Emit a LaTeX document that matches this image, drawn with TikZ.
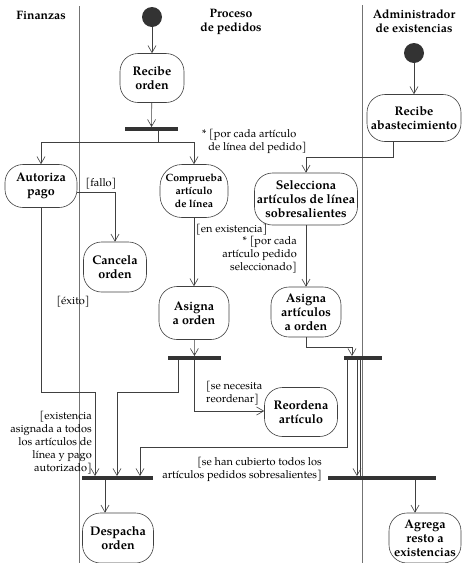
\documentclass[tikz,border=0pt]{standalone}
\usepackage{fontspec}
\setmainfont{TeX Gyre Pagella}
\usetikzlibrary{arrows.meta}
\begin{document}
\begin{tikzpicture}[x=1pt,y=-1pt,
 act/.style={draw=black!75, line width=0.6pt, rounded corners=18pt, align=center,
   font=\bfseries\fontsize{12.5}{14}\selectfont, inner sep=1pt},
 actsmall/.style={act, font=\bfseries\fontsize{10.5}{13}\selectfont},
 bar/.style={fill=black!80, minimum height=3.5pt, inner sep=0pt},
 arr/.style={draw=black!75, line width=0.6pt, -{Straight Barb[length=7pt,width=8pt]}},
 ln/.style={draw=black!75, line width=0.6pt},
 lbl/.style={font=\fontsize{11}{13}\selectfont, inner sep=0pt},
 hdr/.style={font=\bfseries\fontsize{12.2}{14}\selectfont, align=center},
 init/.style={circle, fill=black!80, minimum size=20pt, inner sep=0pt},
 lane/.style={draw=black!55, line width=0.6pt}]
\useasboundingbox (0,0) rectangle (462,563);

% swimlanes
\draw[lane] (79,6) -- (79,563);
\draw[lane] (362,5) -- (362,563);
\node[hdr] (h1) at (41,15) {Finanzas};
\node[hdr] (h2) at (231,22) {Proceso\\de pedidos};
\node[hdr] (h3) at (414,21) {Administrador\\de existencias};

% initial nodes
\node[init] (i1) at (152,17) {};
\node[init] (i2) at (414,53) {};

% activities
\node[act, minimum width=64pt, minimum height=49pt] (recibe) at (152,78) {Recibe\\orden};
\node[act, minimum width=72pt, minimum height=43pt] (autoriza) at (41,186) {Autoriza\\pago};
\node[actsmall, minimum width=68pt, minimum height=53pt, rounded corners=22pt] (comprueba) at (194,191) {Comprueba\\artículo\\de línea};
\node[act, minimum width=63pt, minimum height=50pt] (cancela) at (115,267) {Cancela\\orden};
\node[act, minimum width=70pt, minimum height=53pt] (asigna) at (194,313) {Asigna\\a orden};
\node[act, minimum width=94pt, minimum height=47pt] (abast) at (414,118) {Recibe\\abastecimiento};
\node[act, minimum width=103pt, minimum height=52pt] (selecciona) at (306,199) {Selecciona\\artículos de línea\\sobresalientes};
\node[act, minimum width=70pt, minimum height=50pt] (asignaart) at (306,312) {Asigna\\artículos\\a orden};
\node[act, minimum width=73pt, minimum height=49pt] (reordena) at (301,412) {Reordena\\artículo};
\node[act, minimum width=71pt, minimum height=50pt] (despacha) at (118,538) {Despacha\\orden};
\node[act, minimum width=72pt, minimum height=50pt] (agrega) at (425,538) {Agrega\\resto a\\existencias};

% bars
\node[bar, minimum width=53pt] (b1) at (151.5,129) {};
\node[bar, minimum width=53pt] (b2) at (194.5,358) {};
\node[bar, minimum width=38pt] (b3) at (363,358) {};
\node[bar, minimum width=108pt] (b4) at (382,478) {};
\node[bar, minimum width=71pt] (b5) at (117.5,478) {};

% helper coordinates
\coordinate (f1) at (158,142);
\coordinate (c5) at (95,392);
\coordinate (c8a) at (178,392);
\coordinate (c8b) at (117,392);
\coordinate (c9) at (194,411);
\coordinate (c11) at (393,157);
\coordinate (c13) at (352,347);
\coordinate (c14a) at (347,447);
\coordinate (c14b) at (140,447);
\coordinate (x357) at (357,0);
\coordinate (x360) at (360,0);
\coordinate (x415) at (415,0);
\coordinate (x105) at (105,0);

% connectors
\draw[arr] (i1) -- (recibe);
\draw[arr] (recibe) -- (b1);
\draw[ln] (b1.south -| f1) -- (f1);
\draw[arr] (f1) -| (autoriza.north);
\draw[arr] (f1) -| (comprueba.north);
\draw[arr] ([yshift=-6pt]autoriza.east) -| (cancela.north);
\draw[arr] (autoriza.south) |- (c5) -- (c5 |- b5.north);
\draw[arr] (comprueba) -- (asigna);
\draw[arr] (asigna) -- (b2);
\draw[arr] (b2.south -| c8a) -- (c8a) -- (c8b) -- (c8b |- b5.north);
\draw[arr] (b2.south -| c9) -- (c9) -- (reordena.west |- c9);
\draw[arr] (i2) -- (abast);
\draw[arr] (abast.south -| c11) -- (c11) -| (selecciona.north);
\draw[arr] (selecciona) -- (asignaart);
\draw[arr] (asignaart.south) |- (c13) -- (c13 |- b3.north);
\draw[arr] (b3.south -| c14a) -- (c14a) -- (c14b) -- (c14b |- b5.north);
\draw[arr] (b3.south -| x357) -- (b4.north -| x357);
\draw[ln] (b3.south -| x360) -- (b4.north -| x360);
\draw[arr] (b4.south -| x415) -- (agrega.north -| x415);
\draw[arr] (b5.south -| x105) -- (despacha.north -| x105);

% labels
\node[lbl, anchor=north west, align=left] (l1) at (202,129) {* [por cada artículo\\\phantom{*\,}de línea del pedido]};
\node[lbl] (l2) at (101,184) {[fallo]};
\node[lbl] (l3) at (73,302) {[éxito]};
\node[lbl, anchor=west] (l4) at (196,230) {[en existencia]};
\node[lbl, anchor=east, align=right] (l5) at (297,255) {* [por cada\\artículo pedido\\seleccionado]};
\node[lbl, anchor=west, align=left] (l6) at (206,393) {[se necesita\\reordenar]};
\node[lbl, anchor=east, align=right] (l7) at (92,443) {[existencia\\asignada a todos\\los artículos de\\línea y pago\\autorizado]};
\node[lbl, anchor=east, align=right] (l8) at (322,469) {[se han cubierto todos los\\artículos pedidos sobresalientes]};
\end{tikzpicture}
\end{document}
